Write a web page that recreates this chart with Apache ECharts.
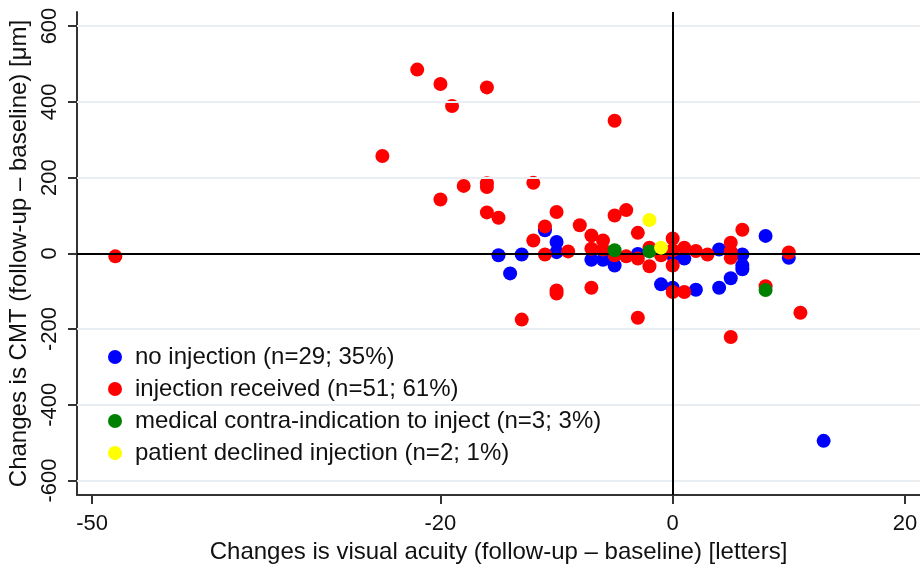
<!DOCTYPE html>
<html>
<head>
<meta charset="utf-8">
<script src="https://cdn.jsdelivr.net/npm/echarts@6/dist/echarts.min.js"></script>
<style>html,body{margin:0;padding:0;background:#fff}#c{width:920px;height:564px}</style>
</head>
<body>
<div id="c"></div>
<script>
var xTicks = [-50, -20, 0, 20];
var yTicks = [-600, -400, -200, 0, 200, 400, 600];
var seriesNames = [
  'no injection (n=29; 35%)',
  'injection received (n=51; 61%)',
  'medical contra-indication to inject (n=3; 3%)',
  'patient declined injection (n=2; 1%)'
];
var noInjection = [
  [-15, -5], [-13, -3], [-14, -53], [-11, 61], [-10, 30], [-10, 3],
  [-7, -17], [-6, -17], [-5, -32], [-3, -2], [0, -5], [1, -14],
  [4, 10], [6, -3], [6, -32], [6, -42], [8, 46], [-1, -82], [0, -91],
  [2, -96], [4, -91], [5, -66], [10, -12], [13, -495]
];
var injectionReceived = [
  [-48, -8], [-22, 485], [-20, 447], [-16, 438], [-19, 389], [-5, 350],
  [-25, 257], [-18, 178], [-16, 185], [-16, 175], [-12, 186], [-20, 142],
  [-16, 108], [-15, 94], [-10, 109], [-11, 71], [-8, 74], [-5, 100],
  [-4, 114], [-12, 34], [-7, 47], [-6, 34], [-3, 54], [-11, -3], [-9, 5],
  [-7, 12], [-6, 10], [-5, -5], [-4, -8], [-3, -14], [-10, -98], [-10, -106],
  [-7, -91], [-13, -175], [-3, -170], [0, 39], [-2, 15], [-2, -34], [-1, -5],
  [0, 8], [0, -32], [1, 15], [2, 6], [3, -3], [5, 28], [5, 5], [5, -12],
  [6, 62], [0, -102], [1, -102], [8, -87], [10, 2], [11, -157], [5, -221]
];
var contraIndication = [[-5, 8], [-2, 5], [8, -97]];
var patientDeclined = [[-2, 88], [-1, 15]];
var colors = ['#0000ff', '#ff0000', '#008000', '#ffff00'];

var chart = echarts.init(document.getElementById('c'), null, {renderer: 'canvas'});
var FONT = 'Liberation Sans, Arial, sans-serif';
var axisCol = '#333333';

function scatter(name, data, color, z) {
  return {
    name: name, type: 'scatter', data: data, symbol: 'circle', symbolSize: 14,
    itemStyle: {color: color, opacity: 1}, z: z, silent: true, animation: false
  };
}

chart.setOption({
  animation: false,
  backgroundColor: '#ffffff',
  grid: {left: 77, right: 0, top: 12, bottom: 69, containLabel: false, outerBoundsMode: 'none'},
  legend: {
    orient: 'vertical', left: 103, top: 340, itemGap: 8,
    itemWidth: 14, itemHeight: 14, icon: 'circle',
    textStyle: {fontFamily: FONT, fontSize: 24, color: '#111', lineHeight: 24, padding: [0, 0, 0, 8]},
    data: seriesNames
  },
  xAxis: {
    type: 'value', min: -51.3, max: 21.3,
    name: 'Changes is visual acuity (follow-up \u2013 baseline) [letters]',
    nameLocation: 'middle', nameGap: 43,
    nameTextStyle: {fontFamily: FONT, fontSize: 24, color: '#111'},
    axisLine: {show: true, onZero: false, lineStyle: {color: axisCol, width: 2}},
    axisTick: {show: true, length: 9, inside: false, customValues: xTicks, lineStyle: {color: axisCol, width: 2}},
    axisLabel: {customValues: xTicks, margin: 18, fontFamily: FONT, fontSize: 22, color: '#111'},
    splitLine: {show: false}
  },
  yAxis: {
    type: 'value', min: -638, max: 637,
    name: 'Changes is CMT (follow-up \u2013 baseline) [\u03bcm]',
    nameLocation: 'middle', nameGap: 43,
    nameTextStyle: {fontFamily: FONT, fontSize: 24, color: '#111'},
    axisLine: {show: true, onZero: false, lineStyle: {color: axisCol, width: 2}},
    axisTick: {show: true, length: 9, inside: false, customValues: yTicks, lineStyle: {color: axisCol, width: 2}},
    axisLabel: {customValues: yTicks, rotate: 90, margin: 16, fontFamily: FONT, fontSize: 22, color: '#111'},
    splitLine: {show: false}
  },
  series: [
    {
      type: 'scatter', data: [], z: 1, silent: true,
      markLine: {
        silent: true, symbol: 'none', animation: false, label: {show: false},
        lineStyle: {color: '#e8eef1', width: 2, type: 'solid'},
        data: yTicks.filter(function (v) { return v !== 0; }).map(function (v) { return {yAxis: v}; })
      }
    },
    {
      type: 'scatter', data: [], z: 2, silent: true,
      markLine: {
        silent: true, symbol: 'none', animation: false, label: {show: false},
        lineStyle: {color: '#000000', width: 2, type: 'solid'},
        data: [{yAxis: 0}, {xAxis: 0}]
      }
    },
    scatter(seriesNames[0], noInjection, colors[0], 3),
    scatter(seriesNames[1], injectionReceived, colors[1], 4),
    scatter(seriesNames[2], contraIndication, colors[2], 5),
    scatter(seriesNames[3], patientDeclined, colors[3], 6)
  ]
});
</script>
</body>
</html>
